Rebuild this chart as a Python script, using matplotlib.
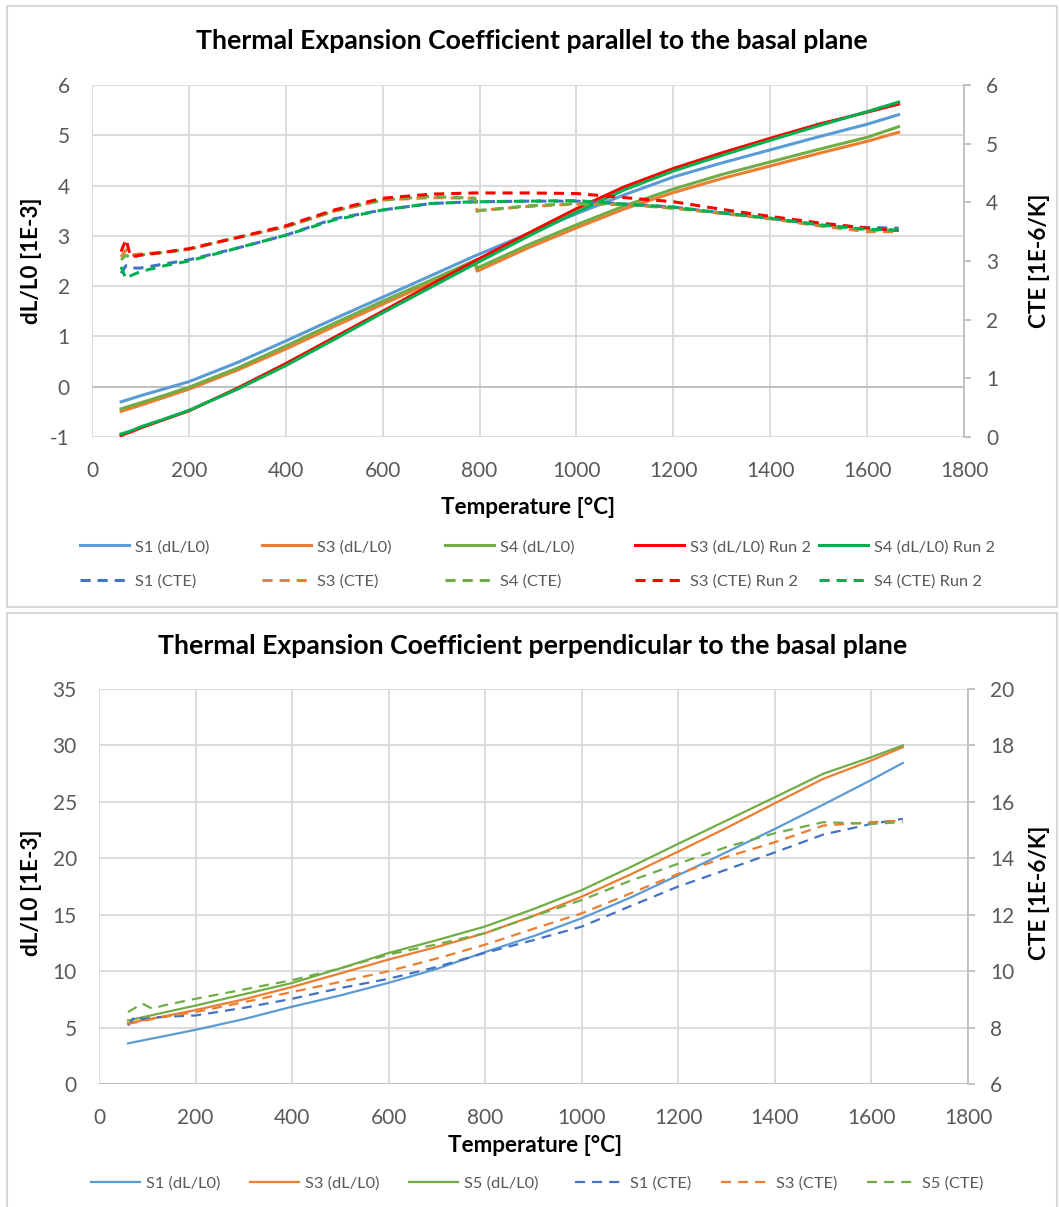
import matplotlib
matplotlib.use("Agg")
import matplotlib.pyplot as plt
from matplotlib.patches import Rectangle

plt.rcParams['font.family'] = ['Lato', 'DejaVu Sans']
plt.rcParams['axes.unicode_minus'] = False

W, H = 1059, 1207

# ---- data: parallel to the basal plane ----
temp_par = [60, 70, 80, 100, 150, 200, 300, 400, 500, 600, 700, 790, 795, 800,
            900, 1000, 1100, 1200, 1300, 1400, 1500, 1600, 1665]
s1_dl = [-0.30, -0.27, -0.24, -0.18, -0.04, 0.10, 0.48, 0.91, 1.35, 1.78, 2.21, 2.60, 2.62, 2.64,
         3.04, 3.44, 3.82, 4.17, 4.45, 4.71, 4.97, 5.22, 5.41]
s3_dl = [-0.49, -0.46, -0.43, -0.37, -0.21, -0.05, 0.33, 0.75, 1.20, 1.64, 2.07, 2.48, 2.30, 2.32,
         2.76, 3.16, 3.54, 3.86, 4.14, 4.39, 4.64, 4.88, 5.06]
s4_dl = [-0.44, -0.41, -0.38, -0.32, -0.17, -0.01, 0.37, 0.81, 1.26, 1.70, 2.12, 2.51, 2.36, 2.38,
         2.82, 3.22, 3.60, 3.93, 4.22, 4.47, 4.72, 4.96, 5.17]
s3_dl_r2 = [-0.97, -0.93, -0.90, -0.82, -0.65, -0.48, -0.03, 0.46, 0.98, 1.50, 2.03, 2.50, 2.53, 2.55,
            3.05, 3.54, 3.98, 4.34, 4.65, 4.94, 5.22, 5.46, 5.62]
s4_dl_r2 = [-0.94, -0.91, -0.88, -0.80, -0.64, -0.47, -0.05, 0.42, 0.94, 1.47, 1.98, 2.44, 2.47, 2.49,
            2.99, 3.47, 3.92, 4.29, 4.60, 4.90, 5.19, 5.47, 5.66]
s1_cte = [2.79, 2.92, 2.88, 2.88, 2.95, 3.02, 3.22, 3.44, 3.72, 3.87, 3.98, 4.01, 4.01, 4.01,
          4.02, 4.02, 3.97, 3.92, 3.82, 3.73, 3.62, 3.57, 3.56]
s3_cte = [3.07, 3.19, 3.10, 3.12, 3.15, 3.20, 3.40, 3.58, 3.85, 4.04, 4.08, 4.07, 3.85, 3.86,
          3.93, 3.97, 3.96, 3.90, 3.81, 3.72, 3.60, 3.50, 3.50]
s4_cte = [3.02, 3.10, 3.05, 3.10, 3.15, 3.20, 3.40, 3.58, 3.85, 4.04, 4.10, 4.07, 3.85, 3.86,
          3.94, 3.98, 3.97, 3.90, 3.82, 3.73, 3.61, 3.53, 3.52]
s3_cte_r2 = [3.16, 3.37, 3.07, 3.10, 3.15, 3.21, 3.40, 3.60, 3.87, 4.07, 4.14, 4.16, 4.16, 4.16,
             4.16, 4.15, 4.08, 4.01, 3.88, 3.76, 3.65, 3.56, 3.52]
s4_cte_r2 = [2.90, 2.70, 2.75, 2.82, 2.92, 3.00, 3.22, 3.44, 3.70, 3.87, 3.98, 4.01, 4.01, 4.01,
             4.02, 4.03, 3.97, 3.92, 3.82, 3.73, 3.62, 3.54, 3.53]

# ---- data: perpendicular to the basal plane ----
temp_perp = [60, 75, 90, 110, 135, 200, 300, 400, 500, 600, 700, 800, 900, 1000,
             1100, 1200, 1300, 1400, 1500, 1600, 1665]
p1_dl = [3.60, 3.73, 3.86, 4.03, 4.24, 4.80, 5.75, 6.85, 7.85, 8.97, 10.20, 11.70, 13.10, 14.69,
         16.50, 18.50, 20.55, 22.60, 24.75, 26.95, 28.45]
p3_dl = [5.39, 5.51, 5.64, 5.80, 6.00, 6.55, 7.50, 8.60, 9.80, 11.03, 12.15, 13.37, 14.90, 16.60,
         18.55, 20.60, 22.70, 24.88, 27.04, 28.67, 29.85]
p5_dl = [5.63, 5.77, 5.91, 6.10, 6.34, 6.95, 7.95, 8.95, 10.25, 11.61, 12.75, 13.96, 15.50, 17.18,
         19.20, 21.29, 23.35, 25.41, 27.49, 28.96, 30.00]
p1_cte = [8.07, 8.40, 8.30, 8.35, 8.38, 8.43, 8.70, 9.02, 9.40, 9.73, 10.15, 10.65, 11.10, 11.58,
          12.30, 13.00, 13.60, 14.21, 14.84, 15.22, 15.40]
p3_cte = [8.13, 8.18, 8.23, 8.30, 8.38, 8.55, 8.90, 9.26, 9.62, 10.00, 10.45, 10.94, 11.50, 12.05,
          12.75, 13.45, 14.05, 14.57, 15.16, 15.28, 15.34]
p5_cte = [8.55, 8.70, 8.85, 8.67, 8.79, 9.02, 9.35, 9.68, 10.10, 10.59, 10.95, 11.35, 11.95, 12.52,
          13.20, 13.81, 14.40, 14.89, 15.28, 15.22, 15.28]

BLUE, DBLUE, ORANGE, LGREEN = '#5B9BD5', '#4472C4', '#ED7D31', '#70AD47'
RED, GREEN = '#FF0000', '#00B050'
GRID, AXIS, TXT = '#D9D9D9', '#BFBFBF', '#595959'


def fx(x):
    return x / W


def fy(y):
    return 1 - y / H


def px_axes(x0, y0, x1, y1):
    return [fx(x0), fy(y1), (x1 - x0) / W, (y1 - y0) / H]


def style(ax, ax2, ylim, yticks, ylim2, yticks2):
    ax.set_xlim(0, 1800)
    ax.set_xticks(range(0, 1801, 200))
    ax.set_ylim(*ylim)
    ax.set_yticks(yticks)
    ax2.set_ylim(*ylim2)
    ax2.set_yticks(yticks2)
    ax.grid(True, color=GRID, lw=1.3)
    ax.set_axisbelow(True)
    for s in ax.spines.values():
        s.set_visible(False)
    for s in ax2.spines.values():
        s.set_visible(False)
    ax2.spines['right'].set_visible(True)
    ax2.spines['right'].set_color(AXIS)
    ax2.spines['right'].set_linewidth(1.3)
    ax.axhline(0, color=AXIS, lw=1.3, zorder=1)
    ax.tick_params(axis='y', length=0, labelsize=15, labelcolor=TXT, pad=16)
    ax.tick_params(axis='x', length=0, labelsize=15, labelcolor=TXT, pad=17)
    ax2.tick_params(axis='y', length=5, width=1.3, color=AXIS, labelsize=15,
                    labelcolor=TXT, pad=11)


fig = plt.figure(figsize=(W / 100, H / 100), dpi=100)

for (x0, y0, x1, y1) in [(7, 6, 1057, 607), (7, 613, 1057, 1212)]:
    fig.patches.append(Rectangle((fx(x0), fy(y1)), (x1 - x0) / W, (y1 - y0) / H,
                                 transform=fig.transFigure, fill=False,
                                 edgecolor=GRID, lw=1.5))

# ---------- top chart ----------
ax = fig.add_axes(px_axes(92, 85, 964, 437))
ax2 = ax.twinx()
style(ax, ax2, (-1, 6), range(-1, 7), (0, 6), range(0, 7))

lw = 2.2
dash = (3.3, 2.3)
top_lines = []
top_lines.append(ax.plot(temp_par, s1_dl, color=BLUE, lw=lw, label='S1 (dL/L0)')[0])
top_lines.append(ax.plot(temp_par, s3_dl, color=ORANGE, lw=lw, label='S3 (dL/L0)')[0])
top_lines.append(ax.plot(temp_par, s4_dl, color=LGREEN, lw=lw, label='S4 (dL/L0)')[0])
top_lines.append(ax.plot(temp_par, s3_dl_r2, color=RED, lw=lw, label='S3 (dL/L0) Run 2')[0])
top_lines.append(ax.plot(temp_par, s4_dl_r2, color=GREEN, lw=lw, label='S4 (dL/L0) Run 2')[0])
top_lines.append(ax2.plot(temp_par, s1_cte, color=DBLUE, lw=lw, ls=(0, dash), label='S1 (CTE)')[0])
top_lines.append(ax2.plot(temp_par, s3_cte, color=ORANGE, lw=lw, ls=(0, dash), label='S3 (CTE)')[0])
top_lines.append(ax2.plot(temp_par, s4_cte, color=LGREEN, lw=lw, ls=(0, dash), label='S4 (CTE)')[0])
top_lines.append(ax2.plot(temp_par, s3_cte_r2, color=RED, lw=lw, ls=(0, dash), label='S3 (CTE) Run 2')[0])
top_lines.append(ax2.plot(temp_par, s4_cte_r2, color=GREEN, lw=lw, ls=(0, dash), label='S4 (CTE) Run 2')[0])

TITLE_FS, LABEL_FS, LEG_FS = 19.2, 16.2, 11.8

fig.text(fx(532), fy(41), 'Thermal Expansion Coefficient parallel to the basal plane',
         ha='center', va='center', fontsize=TITLE_FS, fontweight='bold', color='black')
fig.text(fx(528), fy(507), 'Temperature [°C]', ha='center', va='center',
         fontsize=LABEL_FS, fontweight='bold')
fig.text(fx(32), fy(261), 'dL/L0 [1E-3]', ha='center', va='center', rotation=90,
         fontsize=LABEL_FS, fontweight='bold')
fig.text(fx(1040), fy(261), 'CTE [1E-6/K]', ha='center', va='center', rotation=90,
         fontsize=LABEL_FS, fontweight='bold')

leg_x_top = [80, 262, 445, 635, 819]
for i, line in enumerate(top_lines):
    col = i % 5
    row_y = 547 if i < 5 else 581
    fig.legend(handles=[line], loc='center left',
               bbox_to_anchor=(fx(leg_x_top[col]), fy(row_y)),
               frameon=False, borderpad=0, borderaxespad=0,
               handlelength=3.0, handletextpad=0.38,
               prop={'size': LEG_FS}, labelcolor=TXT)

# ---------- bottom chart ----------
bx = fig.add_axes(px_axes(99, 689, 968, 1084))
bx2 = bx.twinx()
style(bx, bx2, (0, 35), range(0, 36, 5), (6, 20), range(6, 21, 2))

lw_b = 1.6
dash_b = (4.5, 3.2)
bot_lines = []
bot_lines.append(bx.plot(temp_perp, p1_dl, color=BLUE, lw=lw_b, label='S1 (dL/L0)')[0])
bot_lines.append(bx.plot(temp_perp, p3_dl, color=ORANGE, lw=lw_b, label='S3 (dL/L0)')[0])
bot_lines.append(bx.plot(temp_perp, p5_dl, color=LGREEN, lw=lw_b, label='S5 (dL/L0)')[0])
bot_lines.append(bx2.plot(temp_perp, p1_cte, color=DBLUE, lw=lw_b, ls=(0, dash_b), label='S1 (CTE)')[0])
bot_lines.append(bx2.plot(temp_perp, p3_cte, color=ORANGE, lw=lw_b, ls=(0, dash_b), label='S3 (CTE)')[0])
bot_lines.append(bx2.plot(temp_perp, p5_cte, color=LGREEN, lw=lw_b, ls=(0, dash_b), label='S5 (CTE)')[0])

fig.text(fx(533), fy(646), 'Thermal Expansion Coefficient perpendicular to the basal plane',
         ha='center', va='center', fontsize=TITLE_FS, fontweight='bold', color='black')
fig.text(fx(535), fy(1145), 'Temperature [°C]', ha='center', va='center',
         fontsize=LABEL_FS, fontweight='bold')
fig.text(fx(32), fy(893), 'dL/L0 [1E-3]', ha='center', va='center', rotation=90,
         fontsize=LABEL_FS, fontweight='bold')
fig.text(fx(1040), fy(893), 'CTE [1E-6/K]', ha='center', va='center', rotation=90,
         fontsize=LABEL_FS, fontweight='bold')

leg_x_bot = [91, 250, 409, 575, 721, 867]
for i, line in enumerate(bot_lines):
    fig.legend(handles=[line], loc='center left',
               bbox_to_anchor=(fx(leg_x_bot[i]), fy(1183)),
               frameon=False, borderpad=0, borderaxespad=0,
               handlelength=3.0, handletextpad=0.38,
               prop={'size': LEG_FS}, labelcolor=TXT)

fig.savefig('out.png', dpi=100)
